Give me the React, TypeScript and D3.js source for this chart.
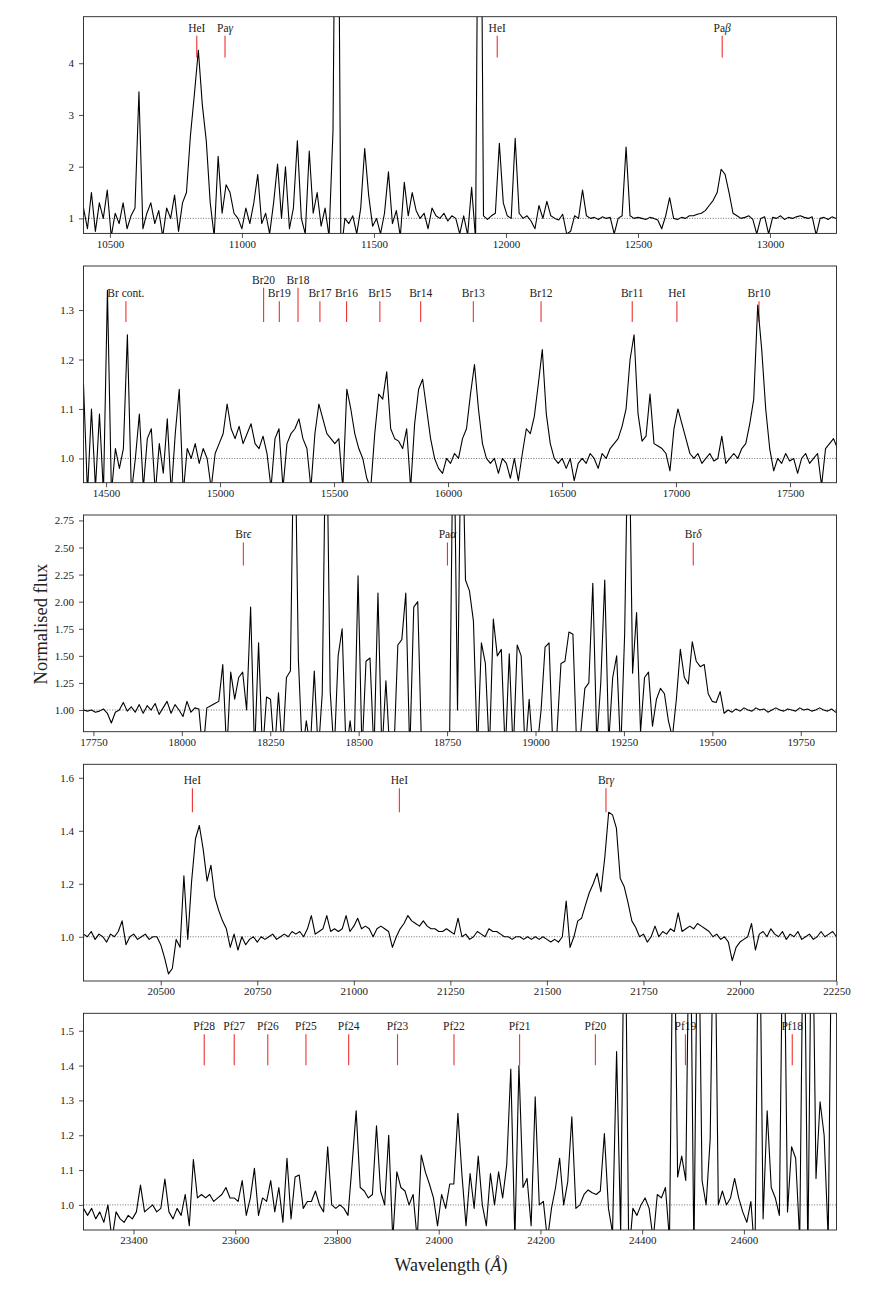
import React, { useEffect, useRef } from 'react';
import * as d3 from 'd3';

// ---- panel 1 (J band) ----
const p1Start = 10400;
const p1Step = 15;
const p1Flux = [
  1.2, 0.8, 1.5, 0.75, 1.3, 1.0, 1.55, 0.65, 1.1, 0.9, 1.3, 0.8, 1.05, 1.2,
  3.45,
  0.8, 1.1, 1.3, 0.9, 1.15, 0.65, 1.2, 1.0, 1.45, 0.75, 1.3,
  1.5,
  2.6, 3.4, 4.25, 3.2, 2.5, 1.3, 0.65, 2.2, 1.1, 1.65, 1.5, 1.1,
  1.0, 0.8, 1.2, 0.9, 1.3, 1.85, 0.9, 1.1, 0.7, 1.3, 2.05, 1.0, 2.0, 0.8, 1.2, 2.5, 1.0, 0.7, 2.3, 1.1, 1.5, 0.85, 1.2, 0.65, 2.7,
  12, 0.3,
  1.0, 0.9, 1.05, 0.7, 1.2, 2.35, 1.45, 0.85, 1.0, 0.7, 1.1, 1.9, 0.9, 1.15, 0.65, 1.7, 1.05, 1.5, 1.15, 1.0, 1.1, 0.8, 1.2, 1.05, 1.0, 1.1, 0.95, 1.05, 1.0, 0.7, 1.05, 0.68, 1.6, 0.6,
  12,
  1.05, 0.98, 1.05, 1.1, 2.45, 1.3, 1.05, 1.0, 2.55, 1.1, 1.0, 1.05, 0.95, 0.8, 1.25, 1.0, 1.33, 1.05, 1.0, 0.97,
  1.08, 0.7, 0.75, 1.05, 1.0, 1.55, 1.05, 1.0, 1.02, 0.98, 1.03, 1.0, 1.02, 0.7, 1.0, 1.05, 2.38, 1.05, 1.0, 1.02,
  1.0, 0.98, 1.02, 1.0, 0.97, 0.8, 1.05, 1.4, 1.0, 0.98, 1.02, 1.0, 1.05,
  1.05, 1.08, 1.1, 1.15, 1.25, 1.35, 1.5, 1.95, 1.85, 1.5, 1.1,
  1.05, 1.0, 1.02, 1.05, 0.98, 0.7, 1.0, 1.03, 0.7, 1.02, 1.0, 1.05, 0.98, 1.02, 1.0, 1.03, 1.05, 1.02, 1.0, 1.03, 0.68, 1.0, 1.02, 0.98, 1.03, 1.0,
];
const p1XDomain = [10400, 13252];
const p1YDomain = [0.71, 4.9];
const p1XTicks = [10500, 11000, 11500, 12000, 12500, 13000];
const p1YTicks = [1, 2, 3, 4];
const p1Names = ['HeI', 'Paγ', 'HeI', 'Paβ'];
const p1Wl = [10829, 10936, 11967, 12819];
const p1MarkTop = [4.53, 4.53, 4.53, 4.53];
const p1MarkBottom = 4.11;

// ---- panel 2 (H band) ----
const p2Start = 14401;
const p2Step = 17.5;
const p2Flux = [
  1.15, 0.93, 1.1, 0.94, 1.09, 0.93, 1.34, 0.93, 1.02, 0.98,
  1.02, 1.25, 0.93, 1.0, 1.09, 0.94, 1.04, 1.06, 0.93, 1.03,
  0.97, 1.08, 0.93, 1.05, 1.14, 0.93, 1.02, 1.0, 1.03, 0.99,
  1.02, 1.0, 0.94, 1.01, 1.03, 1.05, 1.11, 1.06, 1.04, 1.065,
  1.03, 1.05, 1.07, 1.03, 1.02, 1.045, 1.01, 0.94, 1.04, 1.06,
  0.94, 1.03, 1.05, 1.06, 1.08, 1.04, 1.02, 0.94, 1.05, 1.11,
  1.08, 1.05, 1.04, 1.03, 1.04, 0.94, 1.14, 1.1, 1.05, 1.02,
  1.0, 0.96, 0.94, 1.05, 1.13, 1.12, 1.175, 1.06, 1.04, 1.035,
  1.02, 1.06, 0.94, 1.07, 1.14, 1.16, 1.1, 1.04, 1.0, 0.98,
  0.97, 1.0, 0.99, 1.01, 1.0, 1.04, 1.06, 1.13, 1.19, 1.1,
  1.03, 1.0, 0.99, 1.0, 0.97, 1.0, 0.99, 0.96, 1.0, 0.955,
  1.01, 1.06, 1.05, 1.085, 1.15, 1.22, 1.09, 1.03, 1.0, 0.99,
  1.0, 0.98, 1.0, 0.955, 0.99, 1.0, 0.99, 1.01, 1.0, 0.98,
  1.01, 1.0, 1.02, 1.03, 1.04, 1.065, 1.1, 1.2, 1.25, 1.09,
  1.035, 1.045, 1.13, 1.03, 1.025, 1.02, 1.01, 0.975, 1.06, 1.1,
  1.07, 1.04, 1.01, 1.0, 1.01, 0.99, 1.0, 1.01, 0.995, 1.0,
  1.045, 0.99, 1.0, 1.01, 1.0, 1.02, 1.03, 1.07, 1.12, 1.31,
  1.22, 1.1, 1.02, 0.975, 1.0, 0.99, 1.01, 0.995, 1.0, 0.97,
  1.0, 1.01, 0.99, 1.0, 1.01, 0.945, 1.02, 1.03, 1.04, 1.02,
];
const p2XDomain = [14401, 17704];
const p2YDomain = [0.951, 1.389];
const p2XTicks = [14500, 15000, 15500, 16000, 16500, 17000, 17500];
const p2YTicks = [1.0, 1.1, 1.2, 1.3];
const p2Names = ['Br cont.', 'Br20', 'Br19', 'Br18', 'Br17', 'Br16', 'Br15', 'Br14', 'Br13', 'Br12', 'Br11', 'HeI', 'Br10'];
const p2Wl = [14587, 15191, 15260, 15342, 15438, 15555, 15701, 15880, 16111, 16408, 16808, 17004, 17364];
const p2MarkTop = [1.318, 1.345, 1.318, 1.345, 1.318, 1.318, 1.318, 1.318, 1.318, 1.318, 1.318, 1.318, 1.318];
const p2MarkBottom = 1.276;

// ---- panel 3 (H-K gap) ----
const p3Start = 17722;
const p3Step = 11.25;
const p3Flux = [
  1.0, 0.99, 1.0, 0.98, 0.99, 1.01, 0.97, 0.88, 0.98, 1.0,
  1.07, 0.99, 1.03, 0.98, 1.05, 0.97, 1.04, 1.0, 1.06, 0.96,
  1.02, 1.08, 0.97, 1.05, 1.0, 0.94, 1.08, 0.98, 1.02, 1.01,
  0.6, 1.02, 1.04, 1.06, 1.08, 1.42, 0.6, 1.35, 1.1, 1.3,
  1.35, 1.0, 1.95, 0.6, 1.62, 0.6, 1.12, 1.1, 0.6, 1.16,
  0.6, 1.3, 1.36, 4.0, 1.47, 0.6, 0.9, 0.65, 1.36, 0.6,
  1.15, 4.0, 1.17, 0.6, 1.5, 1.75, 0.6, 0.9, 0.6, 2.24,
  0.6, 1.45, 1.48, 0.6, 2.08, 0.6, 1.27, 0.6, 0.6, 1.6,
  1.65, 2.08, 0.6, 1.95, 2.0, 0.6, 0.6, 0.6, 0.6, 0.6,
  0.6, 0.6, 0.7, 4.0, 1.0, 4.0, 2.2, 2.1, 1.82, 0.6,
  1.62, 1.43, 0.6, 1.84, 1.5, 1.56, 0.6, 1.52, 0.6, 1.6,
  1.5, 0.6, 1.1, 0.6, 0.65, 1.0, 1.58, 1.62, 0.6, 0.8,
  1.43, 1.45, 1.72, 1.7, 0.6, 0.8, 1.2, 1.25, 2.17, 0.7,
  1.25, 2.2, 0.7, 1.3, 1.5, 0.6, 1.7, 4.0, 1.34, 1.9,
  0.8, 1.3, 1.35, 0.85, 1.1, 1.2, 1.15, 0.9, 0.75, 1.1,
  1.56, 1.3, 1.24, 1.63, 1.45, 1.4, 1.42, 1.15, 1.08, 1.07,
  1.17, 0.97, 1.0, 0.98, 1.01, 0.99, 1.02, 1.0, 0.99, 1.02,
  1.0, 1.01, 0.98, 1.0, 1.02, 1.0, 0.99, 1.01, 1.0, 0.99,
  1.02, 1.0, 1.01, 0.99, 1.0, 1.02, 1.0, 0.99, 1.01, 0.98, 0.99,
];
const p3XDomain = [17722, 19851];
const p3YDomain = [0.8, 2.8];
const p3XTicks = [17750, 18000, 18250, 18500, 18750, 19000, 19250, 19500, 19750];
const p3YTicks = [1.0, 1.25, 1.5, 1.75, 2.0, 2.25, 2.5, 2.75];
const p3Names = ['Brϵ', 'Paα', 'Brδ'];
const p3Wl = [18174, 18751, 19446];
const p3MarkTop = [2.547, 2.547, 2.547];
const p3MarkBottom = 2.335;

// ---- panel 4 (K band) ----
const p4Start = 20300;
const p4Step = 10;
const p4Flux = [
  1.01, 1.0, 1.02, 0.99, 1.01, 1.0, 0.98, 1.01, 1.0, 1.02,
  1.06, 0.97, 1.0, 1.01, 0.99, 1.0, 1.01, 0.99, 1.0, 1.0,
  0.97, 0.92, 0.86, 0.88, 0.99, 0.96, 1.23, 0.99, 1.21, 1.37,
  1.42, 1.33, 1.21, 1.27, 1.15, 1.1, 1.06, 1.03, 0.96, 1.01,
  0.95, 1.0, 0.97, 0.99, 1.0, 0.98, 1.0, 0.99, 1.0, 1.01,
  0.99, 1.0, 1.01, 1.0, 1.02, 1.01, 1.02, 1.0, 1.03, 1.08,
  1.01, 1.02, 1.03, 1.08, 1.02, 1.03, 1.02, 1.03, 1.08, 1.02,
  1.04, 1.07, 1.03, 1.04, 1.03, 1.0, 1.03, 1.04, 1.03, 1.02,
  0.96, 1.0, 1.03, 1.05, 1.08, 1.06, 1.05, 1.04, 1.06, 1.04,
  1.03, 1.03, 1.02, 1.02, 1.03, 1.02, 1.01, 1.07, 1.0, 1.01,
  0.99, 1.0, 1.02, 1.01, 1.0, 1.03, 1.02, 1.02, 1.01, 1.0,
  1.0, 0.99, 1.0, 1.0, 0.99, 1.0, 0.99, 1.0, 0.99, 1.0,
  0.99, 0.98, 0.99, 0.98, 1.0, 1.135, 0.96, 1.0, 1.06, 1.07,
  1.12, 1.167, 1.2, 1.24, 1.17, 1.3, 1.47, 1.46, 1.41, 1.22,
  1.19, 1.13, 1.06, 1.035, 1.0, 1.01, 0.98, 1.0, 1.04, 1.0,
  1.02, 1.01, 1.03, 1.02, 1.09, 1.02, 1.03, 1.04, 1.03, 1.05,
  1.04, 1.03, 1.02, 1.0, 1.01, 0.99, 1.0, 0.98, 0.91, 0.96,
  0.98, 0.99, 1.0, 1.05, 0.95, 1.01, 1.02, 1.0, 1.03, 1.01,
  1.0, 1.02, 0.99, 1.01, 1.0, 1.02, 0.99, 1.0, 1.01, 0.99,
  1.0, 1.02, 1.0, 1.01, 1.02, 1.0,
];
const p4XDomain = [20300, 22250];
const p4YDomain = [0.833, 1.651];
const p4XTicks = [20500, 20750, 21000, 21250, 21500, 21750, 22000, 22250];
const p4YTicks = [1.0, 1.2, 1.4, 1.6];
const p4Names = ['HeI', 'HeI', 'Brγ'];
const p4Wl = [20582, 21118, 21653];
const p4MarkTop = [1.561, 1.561, 1.561];
const p4MarkBottom = 1.47;

// ---- panel 5 (red K band, Pfund) ----
const p5Start = 23301.7;
const p5Step = 8;
const p5Flux = [
  0.99, 0.97, 0.99, 0.96, 0.98, 0.95, 1.0, 0.9, 0.98, 0.96,
  0.95, 0.97, 0.96, 0.98, 1.057, 0.98, 0.99, 1.0, 0.98, 0.99,
  1.074, 0.98, 0.96, 0.99, 0.97, 1.03, 0.94, 1.13, 1.02, 1.03,
  1.02, 1.03, 1.01, 1.02, 1.03, 1.05, 1.02, 1.02, 1.01, 1.07,
  0.97, 1.02, 1.105, 0.97, 1.02, 1.01, 1.07, 0.98, 1.05, 0.95,
  1.134, 0.96, 1.08, 1.086, 0.99, 1.01, 1.01, 1.04, 1.0, 0.98,
  1.167, 1.0, 0.99, 1.0, 0.99, 0.97, 1.115, 1.27, 1.05, 1.04,
  1.02, 1.03, 1.227, 1.04, 1.0, 1.2, 0.9, 1.095, 1.05, 1.04,
  1.0, 1.03, 0.9, 1.143, 1.095, 1.06, 1.02, 0.94, 1.03, 0.99,
  1.06, 1.06, 1.263, 1.086, 0.94, 1.09, 0.99, 1.14, 1.0, 0.94,
  1.09, 1.0, 1.095, 1.02, 1.115, 1.39, 0.9, 1.4, 1.05, 1.076,
  0.94, 1.31, 1.0, 1.01, 0.9, 0.99, 1.05, 1.134, 1.0, 1.067,
  1.253, 0.99, 1.0, 1.03, 1.043, 1.035, 1.03, 1.04, 1.205, 0.99,
  0.92, 1.44, 0.92, 2.0, 0.85, 0.99, 0.97, 1.0, 1.02, 0.99,
  0.9, 1.03, 1.02, 1.05, 0.9, 2.0, 1.08, 1.14, 1.07, 2.0,
  0.85, 2.0, 1.07, 1.0, 1.19, 2.0, 1.0, 1.04, 1.0, 1.02,
  1.076, 1.02, 0.98, 0.95, 1.01, 0.85, 2.0, 0.96, 1.27, 1.05,
  1.02, 0.97, 2.0, 0.98, 1.167, 1.134, 0.9, 2.0, 0.85, 2.0,
  1.076, 1.296, 1.2, 0.9, 2.0, 2.0,
];
const p5XDomain = [23301.7, 24782];
const p5YDomain = [0.928, 1.55];
const p5XTicks = [23400, 23600, 23800, 24000, 24200, 24400, 24600];
const p5YTicks = [1.0, 1.1, 1.2, 1.3, 1.4, 1.5];
const p5Names = ['Pf28', 'Pf27', 'Pf26', 'Pf25', 'Pf24', 'Pf23', 'Pf22', 'Pf21', 'Pf20', 'Pf19', 'Pf18'];
const p5Wl = [23539, 23598, 23664, 23739, 23823, 23919, 24030, 24159, 24308, 24485, 24695];
const p5MarkTop = p5Wl.map(() => 1.49);
const p5MarkBottom = 1.401;

const panels = [
  { start: p1Start, step: p1Step, flux: p1Flux, xDomain: p1XDomain, yDomain: p1YDomain, xTicks: p1XTicks, yTicks: p1YTicks, yFmt: 'd', names: p1Names, wl: p1Wl, markTop: p1MarkTop, markBottom: p1MarkBottom },
  { start: p2Start, step: p2Step, flux: p2Flux, xDomain: p2XDomain, yDomain: p2YDomain, xTicks: p2XTicks, yTicks: p2YTicks, yFmt: '.1f', names: p2Names, wl: p2Wl, markTop: p2MarkTop, markBottom: p2MarkBottom },
  { start: p3Start, step: p3Step, flux: p3Flux, xDomain: p3XDomain, yDomain: p3YDomain, xTicks: p3XTicks, yTicks: p3YTicks, yFmt: '.2f', names: p3Names, wl: p3Wl, markTop: p3MarkTop, markBottom: p3MarkBottom },
  { start: p4Start, step: p4Step, flux: p4Flux, xDomain: p4XDomain, yDomain: p4YDomain, xTicks: p4XTicks, yTicks: p4YTicks, yFmt: '.1f', names: p4Names, wl: p4Wl, markTop: p4MarkTop, markBottom: p4MarkBottom },
  { start: p5Start, step: p5Step, flux: p5Flux, xDomain: p5XDomain, yDomain: p5YDomain, xTicks: p5XTicks, yTicks: p5YTicks, yFmt: '.1f', names: p5Names, wl: p5Wl, markTop: p5MarkTop, markBottom: p5MarkBottom },
];

const W = 872;
const H = 1308;
const left = 83.5;
const right = 836.5;
const panelTops = [16.7, 266, 515, 764.3, 1013.3];
const panelH = 216.7;
const FONT = "'Liberation Serif', 'DejaVu Serif', serif";
const greek = /[α-ωϵ]/;

const App = () => {
  const svgRef = useRef<SVGSVGElement>(null);

  useEffect(() => {
    const svg = d3.select(svgRef.current);
    svg.selectAll('*').remove();

    panels.forEach((p, k) => {
      const top = panelTops[k];
      const x = d3.scaleLinear().domain(p.xDomain).range([left, right]);
      const y = d3.scaleLinear().domain(p.yDomain).range([top + panelH, top]);
      const g = svg.append('g');

      const clipId = `clip-${k}`;
      svg.append('clipPath').attr('id', clipId)
        .append('rect')
        .attr('x', left).attr('y', top)
        .attr('width', right - left).attr('height', panelH);

      // continuum level
      g.append('line')
        .attr('x1', left).attr('x2', right)
        .attr('y1', y(1)).attr('y2', y(1))
        .attr('stroke', '#333').attr('stroke-width', 0.7)
        .attr('stroke-dasharray', '1,1.6');

      // line identifications
      p.names.forEach((name, j) => {
        const lx = x(p.wl[j]);
        g.append('line')
          .attr('x1', lx).attr('x2', lx)
          .attr('y1', y(p.markTop[j])).attr('y2', y(p.markBottom))
          .attr('stroke', '#f03030').attr('stroke-width', 1.1);
        const t = g.append('text')
          .attr('x', lx).attr('y', y(p.markTop[j]) - 4)
          .attr('text-anchor', 'middle')
          .attr('font-family', FONT).attr('font-size', 11.5)
          .attr('fill', '#222');
        (name.match(/[α-ωϵ]+|[^α-ωϵ]+/g) || []).forEach(s => {
          t.append('tspan').text(s).attr('font-style', greek.test(s) ? 'italic' : 'normal');
        });
      });

      // spectrum
      const pts = p.flux.map((f, i) => [p.start + i * p.step, f]);
      const line = d3.line().x(d => x(d[0])).y(d => y(d[1]));
      g.append('path')
        .datum(pts)
        .attr('clip-path', `url(#${clipId})`)
        .attr('d', line)
        .attr('fill', 'none')
        .attr('stroke', 'black')
        .attr('stroke-width', 1.1)
        .attr('stroke-linejoin', 'round');

      // axes
      const xAxis = d3.axisBottom(x).tickValues(p.xTicks).tickSize(4.5).tickSizeOuter(0)
        .tickPadding(2).tickFormat(d3.format('d'));
      const gx = g.append('g').attr('transform', `translate(0,${top + panelH})`).call(xAxis);
      const yAxis = d3.axisLeft(y).tickValues(p.yTicks).tickSize(4.5).tickSizeOuter(0)
        .tickPadding(5).tickFormat(d3.format(p.yFmt));
      const gy = g.append('g').attr('transform', `translate(${left},0)`).call(yAxis);
      [gx, gy].forEach(a => {
        a.select('.domain').remove();
        a.selectAll('text').attr('font-family', FONT).attr('font-size', 11).attr('fill', '#222');
        a.selectAll('line').attr('stroke', '#222').attr('stroke-width', 0.8);
      });

      g.append('rect')
        .attr('x', left).attr('y', top)
        .attr('width', right - left).attr('height', panelH)
        .attr('fill', 'none').attr('stroke', '#222').attr('stroke-width', 0.9);
    });

    svg.append('text')
      .attr('transform', `translate(47,624) rotate(-90)`)
      .attr('text-anchor', 'middle')
      .attr('font-family', FONT).attr('font-size', 18.5).attr('fill', '#222')
      .text('Normalised flux');

    const xl = svg.append('text')
      .attr('x', 451).attr('y', 1271)
      .attr('text-anchor', 'middle')
      .attr('font-family', FONT).attr('font-size', 18).attr('fill', '#222');
    xl.append('tspan').text('Wavelength (');
    xl.append('tspan').attr('font-style', 'italic').text('Å');
    xl.append('tspan').text(')');
  }, []);

  return (
    <svg ref={svgRef} width={W} height={H}
      style={{ position: 'absolute', left: 0, top: 0, background: 'white' }} />
  );
};

export default App;
